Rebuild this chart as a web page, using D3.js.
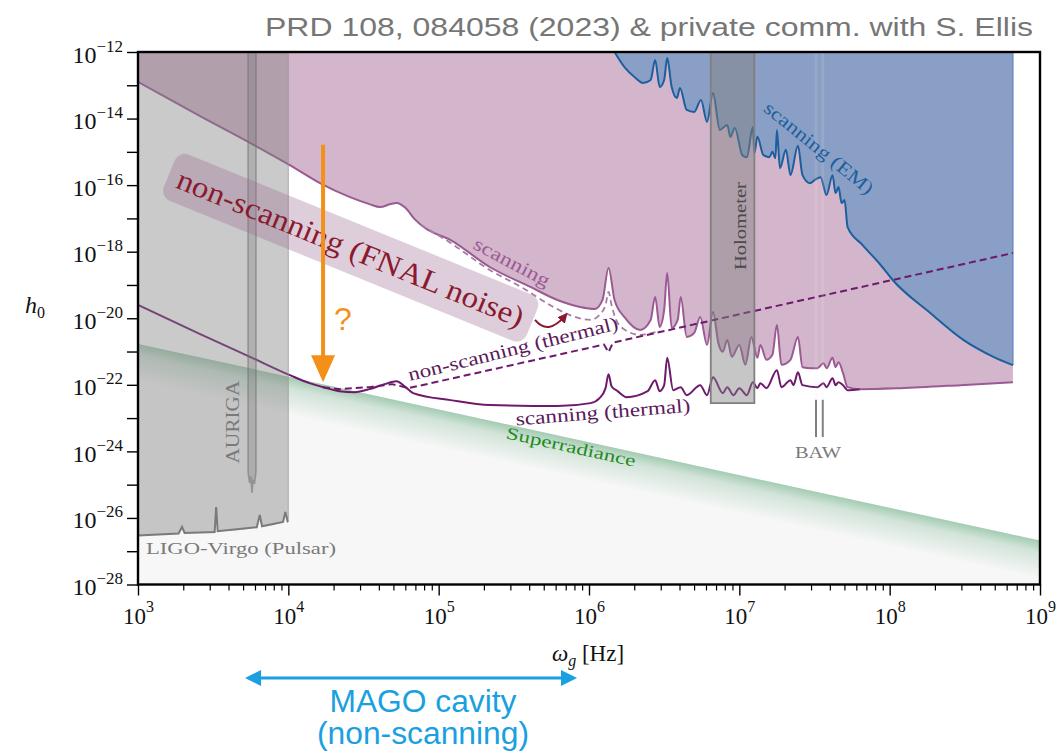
<!DOCTYPE html>
<html>
<head>
<meta charset="utf-8">
<script src="https://cdn.jsdelivr.net/npm/d3@7"></script>
<style>
  body { margin: 0; background: #fff; }
  svg { display: block; }
</style>
</head>
<body>
<div class="d3"></div>
<script>
// all curves as [log10(omega / Hz), log10(h0)]
const scanningFNAL = [
  [3.00,-12.90],[3.41,-13.92],[3.745,-14.73],[4.01,-15.40],[4.21,-15.94],[4.41,-16.36],[4.54,-16.57],
  [4.61,-16.66],[4.68,-16.57],[4.72,-16.54],[4.78,-16.69],[4.84,-17.02],[4.91,-17.29],[5.08,-17.65],
  [5.34,-18.46],[5.61,-19.06],[5.79,-19.45],[5.94,-19.66],[6.04,-19.72],[6.09,-19.45],[6.13,-18.49],
  [6.17,-19.45],[6.24,-19.99],[6.34,-20.35],[6.41,-20.05],[6.44,-19.36],[6.47,-20.26],[6.50,-19.75],
  [6.52,-18.64],[6.55,-20.29],[6.59,-20.05],[6.61,-19.36],[6.65,-20.56],[6.70,-20.44],[6.74,-19.96],
  [6.785,-20.80],[6.825,-19.81],[6.86,-20.74],[6.89,-21.01],[6.92,-20.65],[6.95,-21.16],[7.00,-20.80],
  [7.04,-21.40],[7.08,-20.56],[7.12,-21.19],[7.14,-20.80],[7.18,-21.25],[7.22,-21.10],[7.25,-20.20],
  [7.28,-21.40],[7.34,-21.25],[7.39,-20.56],[7.42,-21.47],[7.48,-21.50],[7.52,-21.50],[7.56,-21.35],
  [7.58,-21.50],[7.62,-21.19],[7.64,-21.47],[7.66,-21.32],[7.69,-21.65],[7.72,-22.07],[7.80,-22.13],
  [8.07,-22.10],[8.47,-22.01],[8.82,-21.92]
];
const scanningThermal = [
  [3.00,-19.60],[3.41,-20.47],[3.745,-21.16],[4.01,-21.71],[4.14,-21.95],[4.23,-22.07],[4.34,-22.19],
  [4.44,-22.22],[4.54,-22.13],[4.64,-21.98],[4.72,-21.89],[4.78,-22.07],[4.83,-22.25],[5.08,-22.46],
  [5.34,-22.61],[5.79,-22.64],[6.01,-22.55],[6.07,-22.40],[6.11,-22.10],[6.13,-21.68],[6.15,-22.04],
  [6.19,-22.19],[6.25,-22.37],[6.39,-22.19],[6.44,-21.86],[6.47,-22.19],[6.50,-22.01],[6.52,-21.19],
  [6.56,-22.16],[6.61,-22.07],[6.65,-22.31],[6.74,-22.01],[6.785,-22.31],[6.825,-21.77],[6.89,-22.25],
  [6.92,-22.07],[6.96,-22.31],[7.00,-22.10],[7.05,-22.31],[7.09,-21.92],[7.12,-22.10],[7.14,-21.95],
  [7.18,-22.10],[7.25,-21.56],[7.28,-22.07],[7.34,-21.86],[7.36,-22.01],[7.39,-21.62],[7.42,-22.01],
  [7.52,-22.07],[7.56,-21.95],[7.58,-22.07],[7.62,-21.80],[7.64,-22.01],[7.66,-21.92],[7.69,-22.01],
  [7.72,-22.16],[7.80,-22.13]
];
const nonScanThermal = [
  [4.23,-22.07],[4.34,-22.13],[4.54,-22.07],[4.69,-21.98],[4.80,-22.10],[6.10,-20.79],[6.13,-21.02],
  [6.16,-20.73],[8.82,-18.04]
];
const nonScanFNAL = [
  [4.88,-17.20],[5.06,-17.68],[5.34,-18.55],[5.56,-19.09],[5.74,-19.60],[5.87,-19.90],[6.01,-20.05],
  [6.07,-19.90],[6.11,-19.60],[6.13,-19.21],[6.15,-19.60],[6.18,-20.05],[6.24,-20.35],[6.34,-20.50],
  [6.47,-20.38]
];
const scanningEM = [
  [6.17,-12.00],[6.24,-12.48],[6.31,-12.78],[6.36,-12.93],[6.41,-12.84],[6.44,-12.24],[6.47,-13.05],
  [6.50,-12.84],[6.52,-12.18],[6.55,-13.05],[6.585,-13.38],[6.605,-13.08],[6.65,-13.74],[6.70,-13.80],
  [6.745,-13.44],[6.785,-14.10],[6.825,-13.23],[6.87,-14.34],[6.92,-14.19],[6.94,-14.55],[6.97,-14.28],
  [7.02,-15.10],[7.05,-15.16],[7.09,-14.25],[7.10,-15.04],[7.12,-14.55],[7.16,-15.10],[7.20,-15.16],
  [7.22,-15.00],[7.24,-15.19],[7.25,-14.34],[7.27,-15.49],[7.31,-14.94],[7.34,-15.70],[7.39,-14.82],
  [7.42,-15.70],[7.47,-15.94],[7.50,-15.85],[7.54,-15.76],[7.58,-16.30],[7.62,-15.70],[7.64,-16.24],
  [7.66,-16.06],[7.68,-16.54],[7.70,-16.45],[7.72,-17.26],[7.82,-17.80],[7.94,-18.40],[8.02,-18.85],
  [8.27,-19.84],[8.49,-20.65],[8.69,-21.16],[8.82,-21.41]
];
const ligoVirgo = [
  [3.00,-26.53],[3.27,-26.47],[3.293,-26.27],[3.31,-26.45],[3.51,-26.42],[3.52,-25.67],[3.53,-26.40],
  [3.79,-26.28],[3.81,-25.91],[3.825,-26.25],[3.965,-26.12],[3.98,-25.82],[3.995,-26.10],[4.00,-26.08]
];
const auriga = [
  [3.732,-12],[3.732,-24.62],[3.742,-24.95],[3.750,-24.75],[3.758,-25.25],[3.766,-24.85],
  [3.775,-24.98],[3.785,-24.62],[3.785,-12]
];
const holometerBand = [6.81, 7.10];
const holometerFloor = -22.55;
const bawFreqs = [7.51, 7.555];
const bawSpan = [-22.45, -23.57];
const superradiance = [[3, -20.77], [9, -26.68]];
const xDecades = [3, 4, 5, 6, 7, 8, 9];
const yDecades = d3.range(-28, -11);
const yLabelled = [-28, -26, -24, -22, -20, -18, -16, -14, -12];
const magoRange = [3.712, 5.92];

const width = 1061, height = 753;
const serif = "'Liberation Serif', 'Times New Roman', serif";
const sans = "'Liberation Sans', Arial, sans-serif";

const x = d3.scaleLog().domain([1e3, 1e9]).range([138, 1040]);
const y = d3.scaleLog().domain([1e-28, 1e-12]).range([584.5, 52]);
const px = d => x(10 ** d[0]);
const py = d => y(10 ** d[1]);
const yTop = y(1e-12), yBot = y(1e-28);

const svg = d3.select(".d3").append("svg")
  .attr("width", width).attr("height", height);

const defs = svg.append("defs");
defs.append("clipPath").attr("id", "plot")
  .append("rect").attr("x", x(1e3)).attr("y", yTop)
  .attr("width", x(1e9) - x(1e3)).attr("height", yBot - yTop);

// superradiance fade, perpendicular to the edge
const e0 = [px(superradiance[0]), py(superradiance[0])];
const e1 = [px(superradiance[1]), py(superradiance[1])];
const len = Math.hypot(e1[0] - e0[0], e1[1] - e0[1]);
const nrm = [-(e1[1] - e0[1]) / len, (e1[0] - e0[0]) / len];
const grad = defs.append("linearGradient").attr("id", "sr")
  .attr("gradientUnits", "userSpaceOnUse")
  .attr("x1", e0[0]).attr("y1", e0[1])
  .attr("x2", e0[0] + 38 * nrm[0]).attr("y2", e0[1] + 38 * nrm[1]);
grad.append("stop").attr("offset", 0).attr("stop-color", "rgb(80,160,110)").attr("stop-opacity", 0.5);
grad.append("stop").attr("offset", 0.3).attr("stop-color", "rgb(80,160,110)").attr("stop-opacity", 0.22);
grad.append("stop").attr("offset", 1).attr("stop-color", "rgb(80,160,110)").attr("stop-opacity", 0);

defs.append("marker").attr("id", "redhead").attr("viewBox", "0 0 10 10")
  .attr("refX", 6).attr("refY", 5).attr("markerWidth", 5).attr("markerHeight", 5)
  .attr("orient", "auto")
  .append("path").attr("d", "M0,0 L10,5 L0,10 z").attr("fill", "#8b1a2e");

const g = svg.append("g").attr("clip-path", "url(#plot)");

const line = d3.line().x(px).y(py).curve(d3.curveMonotoneX);
const straight = d3.line().x(px).y(py);
const toTop = d3.area().x(px).y0(yTop).y1(py).curve(d3.curveMonotoneX);

// superradiance region
const srPoly = [e0, e1, [x(1e9), yBot], [x(1e3), yBot]];
g.append("path").attr("d", d3.line()(srPoly) + "Z").attr("fill", "#f7f7f7");
g.append("path").attr("d", d3.line()(srPoly) + "Z").attr("fill", "url(#sr)");

// excluded regions
g.append("path").attr("d", toTop(scanningFNAL)).attr("fill", "#d4b6cc");
g.append("path").attr("d", toTop(scanningEM)).attr("fill", "#8a9fc5");
const emEnd = scanningEM[scanningEM.length - 1];
g.append("line")
  .attr("x1", px(emEnd)).attr("x2", px(emEnd))
  .attr("y1", yTop).attr("y2", py(emEnd))
  .attr("stroke", "#5f86c0").attr("stroke-width", 1.2);

// curves
g.append("path").attr("d", line(scanningFNAL)).attr("fill", "none")
  .attr("stroke", "#9b5a94").attr("stroke-width", 2);
g.append("path").attr("d", line(nonScanFNAL)).attr("fill", "none")
  .attr("stroke", "#a87aa6").attr("stroke-width", 1.8).attr("stroke-dasharray", "6,4");
g.append("path").attr("d", line(scanningThermal)).attr("fill", "none")
  .attr("stroke", "#6d1a6d").attr("stroke-width", 2);
g.append("path").attr("d", straight(nonScanThermal)).attr("fill", "none")
  .attr("stroke", "#6d1a6d").attr("stroke-width", 2).attr("stroke-dasharray", "7,4");
g.append("path").attr("d", line(scanningEM)).attr("fill", "none")
  .attr("stroke", "#1c5f9e").attr("stroke-width", 2);

// LIGO-Virgo pulsar band
g.append("path").attr("d", toTop(ligoVirgo)).attr("fill", "rgba(128,128,128,0.42)");
g.append("line").attr("x1", x(1e4)).attr("x2", x(1e4)).attr("y1", yTop)
  .attr("y2", py(ligoVirgo[ligoVirgo.length - 1]))
  .attr("stroke", "rgba(150,150,150,0.6)").attr("stroke-width", 1.2);
g.append("path").attr("d", straight(ligoVirgo)).attr("fill", "none")
  .attr("stroke", "#7a7a7a").attr("stroke-width", 2);

// AURIGA
g.append("path").attr("d", straight(auriga) + "Z")
  .attr("fill", "rgba(110,110,110,0.28)")
  .attr("stroke", "rgba(115,115,115,0.55)").attr("stroke-width", 1.6);

// Holometer
g.append("rect")
  .attr("x", x(10 ** holometerBand[0])).attr("y", yTop)
  .attr("width", x(10 ** holometerBand[1]) - x(10 ** holometerBand[0]))
  .attr("height", y(10 ** holometerFloor) - yTop)
  .attr("fill", "rgba(128,128,128,0.45)")
  .attr("stroke", "#808080").attr("stroke-width", 1.8);

// BAW
bawFreqs.forEach(f => {
  g.append("line").attr("x1", x(10 ** f)).attr("x2", x(10 ** f))
    .attr("y1", yTop).attr("y2", y(10 ** bawSpan[0]))
    .attr("stroke", "rgba(235,235,235,0.14)").attr("stroke-width", 3);
  g.append("line").attr("x1", x(10 ** f)).attr("x2", x(10 ** f))
    .attr("y1", y(10 ** bawSpan[0])).attr("y2", y(10 ** bawSpan[1]))
    .attr("stroke", "#808080").attr("stroke-width", 2);
});

// labels
function label(text, pos, angle, size, color, len, anchor) {
  const t = svg.append("text")
    .attr("transform", `translate(${px(pos)},${py(pos)}) rotate(${angle})`)
    .attr("text-anchor", anchor || "middle")
    .attr("dominant-baseline", "central")
    .attr("font-family", serif).attr("font-size", size).attr("fill", color)
    .text(text);
  if (len) t.attr("textLength", len).attr("lengthAdjust", "spacingAndGlyphs");
  return t;
}

const fnalPos = [4.415, -17.88];
const fnal = svg.append("g")
  .attr("transform", `translate(${px(fnalPos)},${py(fnalPos)}) rotate(22.2)`);
fnal.append("rect").attr("x", -196).attr("y", -25).attr("width", 392).attr("height", 50)
  .attr("rx", 11).attr("fill", "rgba(154,107,148,0.33)");
fnal.append("text").attr("text-anchor", "middle").attr("dominant-baseline", "central")
  .attr("font-family", serif).attr("font-size", 30).attr("fill", "#8b1a2e")
  .attr("textLength", 372).attr("lengthAdjust", "spacingAndGlyphs")
  .text("non-scanning (FNAL noise)");

const a0 = [5.641, -20.05], a1 = [5.84, -19.93];
svg.append("path")
  .attr("d", `M${px(a0)},${py(a0)} Q${(px(a0) + px(a1)) / 2 - 2},${py(a0) + 16} ${px(a1)},${py(a1)}`)
  .attr("fill", "none").attr("stroke", "#8b1a2e").attr("stroke-width", 2)
  .attr("marker-end", "url(#redhead)");

label("scanning", [5.488, -18.31], 28, 19, "#9b5a94", 84);
label("non-scanning (thermal)", [5.494, -20.92], -13.9, 19, "#5a1a5a", 216);
label("scanning (thermal)", [6.093, -22.82], -4.5, 19, "#5a1a5a", 175);
label("scanning (EM)", [7.53, -14.88], 39, 19, "#1c5f9e", 135);
label("Superradiance", [5.88, -23.87], 12.5, 17, "#1e8c1e", 132);
label("Holometer", [7.011, -17.23], -90, 16, "#4a4a4a", 88);
label("AURIGA", [3.632, -23.12], -90, 18, "#7a7a7a", 83);
label("LIGO-Virgo (Pulsar)", [3.053, -26.93], 0, 17, "#7a7a7a", 190, "start");
label("BAW", [7.523, -24.02], 0, 17, "#7a7a7a", 46);

// orange arrow with question mark
const ox = x(10 ** 4.231), oy0 = y(10 ** -14.79), oy1 = y(10 ** -21.92);
svg.append("line").attr("x1", ox).attr("x2", ox).attr("y1", oy0).attr("y2", oy1 - 24)
  .attr("stroke", "#f39019").attr("stroke-width", 4);
svg.append("path")
  .attr("d", `M${ox - 12},${oy1 - 27} L${ox + 12},${oy1 - 27} L${ox},${oy1} Z`)
  .attr("fill", "#f39019");
svg.append("text").attr("x", x(10 ** 4.304)).attr("y", y(10 ** -20.35))
  .attr("font-family", sans).attr("font-size", 32).attr("fill", "#f39019").text("?");

// axes
const xMinor = [];
xDecades.slice(0, -1).forEach(d => { for (let k = 2; k < 10; k++) xMinor.push(k * 10 ** d); });

svg.append("g").attr("transform", `translate(0,${yBot})`)
  .call(d3.axisBottom(x).tickValues(xMinor).tickSize(6).tickFormat(() => ""))
  .call(a => { a.select(".domain").remove(); a.selectAll("line").attr("stroke-width", 1.2); });

const xAx = svg.append("g").attr("transform", `translate(0,${yBot})`)
  .call(d3.axisBottom(x).tickValues(xDecades.map(d => 10 ** d)).tickSize(11).tickFormat(() => ""))
  .call(a => { a.select(".domain").remove(); a.selectAll("line").attr("stroke-width", 1.4); });
xAx.selectAll(".tick text").remove();
xAx.selectAll(".tick").each(function (d, i) {
  const t = d3.select(this).append("text").attr("y", 39).attr("fill", "#111")
    .attr("text-anchor", "middle").attr("font-family", serif).attr("font-size", 23);
  t.append("tspan").text("10");
  t.append("tspan").attr("dy", -12).attr("font-size", 16).text(String(xDecades[i]));
});

const yAx = svg.append("g").attr("transform", `translate(${x(1e3)},0)`)
  .call(d3.axisLeft(y).tickValues(yDecades.map(d => 10 ** d)).tickSize(11).tickFormat(() => ""))
  .call(a => { a.select(".domain").remove(); a.selectAll("line").attr("stroke-width", 1.4); });
yAx.selectAll(".tick text").remove();
yAx.selectAll(".tick").filter((d, i) => yLabelled.includes(yDecades[i])).each(function (d) {
  const e = Math.round(Math.log10(d));
  const t = d3.select(this).append("text").attr("x", -15).attr("y", 10).attr("fill", "#111")
    .attr("text-anchor", "end").attr("font-family", serif).attr("font-size", 24);
  t.append("tspan").text("10");
  t.append("tspan").attr("dy", -11).attr("font-size", 17).text("\u2212" + Math.abs(e));
});

svg.append("rect").attr("x", x(1e3)).attr("y", yTop)
  .attr("width", x(1e9) - x(1e3)).attr("height", yBot - yTop)
  .attr("fill", "none").attr("stroke", "#000").attr("stroke-width", 2.4);

// axis titles
const hl = svg.append("text").attr("x", 25).attr("y", 313)
  .attr("font-family", serif).attr("font-size", 24).attr("fill", "#111");
hl.append("tspan").attr("font-style", "italic").text("h");
hl.append("tspan").attr("dy", 5).attr("font-size", 16).text("0");

const xl = svg.append("text").attr("x", 588).attr("y", 661).attr("text-anchor", "middle")
  .attr("font-family", serif).attr("font-size", 23).attr("fill", "#111");
xl.append("tspan").attr("font-style", "italic").text("\u03C9");
xl.append("tspan").attr("font-style", "italic").attr("dy", 5).attr("font-size", 16).text("g");
xl.append("tspan").attr("dy", -5).text(" [Hz]");

// title
svg.append("text").attr("x", 265).attr("y", 36)
  .attr("font-family", sans).attr("font-size", 26).attr("fill", "#767676")
  .attr("textLength", 768).attr("lengthAdjust", "spacingAndGlyphs")
  .text("PRD 108, 084058 (2023) & private comm. with S. Ellis");

// MAGO range below the axis
const my = 678;
const mx0 = x(10 ** magoRange[0]), mx1 = x(10 ** magoRange[1]);
svg.append("line").attr("x1", mx0 + 12).attr("x2", mx1 - 12).attr("y1", my).attr("y2", my)
  .attr("stroke", "#1a9fe0").attr("stroke-width", 3);
svg.append("path").attr("d", `M${mx0},${my} L${mx0 + 16},${my - 8} L${mx0 + 16},${my + 8} Z`).attr("fill", "#1a9fe0");
svg.append("path").attr("d", `M${mx1},${my} L${mx1 - 16},${my - 8} L${mx1 - 16},${my + 8} Z`).attr("fill", "#1a9fe0");
const mc = 423;
svg.append("text").attr("x", mc).attr("y", 712).attr("text-anchor", "middle")
  .attr("font-family", sans).attr("font-size", 31).attr("fill", "#1a9fe0")
  .attr("textLength", 187).attr("lengthAdjust", "spacingAndGlyphs").text("MAGO cavity");
svg.append("text").attr("x", mc).attr("y", 744).attr("text-anchor", "middle")
  .attr("font-family", sans).attr("font-size", 31).attr("fill", "#1a9fe0")
  .attr("textLength", 212).attr("lengthAdjust", "spacingAndGlyphs").text("(non-scanning)");
</script>
</body>
</html>
